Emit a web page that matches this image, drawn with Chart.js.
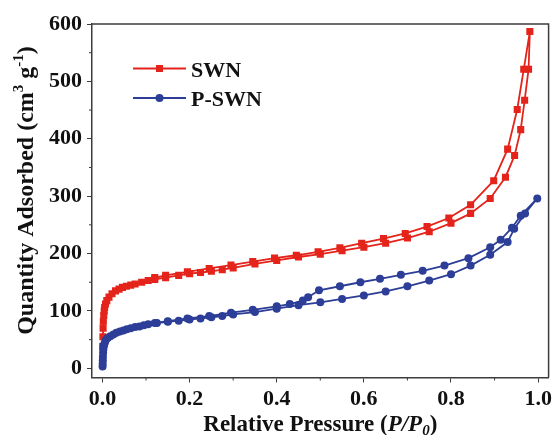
<!DOCTYPE html>
<html>
<head>
<meta charset="utf-8">
<script src="https://cdn.jsdelivr.net/npm/chart.js@4.4.1/dist/chart.umd.min.js"></script>
<style>
    html, body { margin: 0; padding: 0; background: #fff; }
</style>
</head>
<body>
<canvas id="isoChart" width="556" height="435"></canvas>
<script>
// SWN isotherm: adsorption branch (lower) then desorption branch (upper)
const swnAdsX = [0.0005, 0.001, 0.0015, 0.002, 0.003, 0.004, 0.005, 0.007, 0.01, 0.015, 0.022, 0.03, 0.038, 0.046, 0.055, 0.065, 0.075, 0.09, 0.105, 0.12, 0.145, 0.175, 0.2, 0.225, 0.25, 0.275, 0.3, 0.35, 0.4, 0.45, 0.5, 0.55, 0.6, 0.65, 0.7, 0.75, 0.8, 0.845, 0.89, 0.925, 0.946, 0.96, 0.969, 0.978, 0.981];
const swnAdsY = [38, 55, 70, 82, 92, 100, 106, 112, 118, 124, 130, 135, 138, 141, 143, 145, 147, 150, 153, 155, 158, 162, 165, 167, 169, 172, 175, 182, 188, 194, 199, 205, 211, 218, 227, 238, 253, 270, 296, 333, 371, 416, 467, 521, 587];
const swnDesX = [0.967, 0.952, 0.93, 0.898, 0.845, 0.795, 0.745, 0.695, 0.645, 0.595, 0.545, 0.495, 0.445, 0.395, 0.345, 0.295, 0.245, 0.195, 0.145, 0.12];
const swnDesY = [521, 451, 382, 327, 285, 262, 247, 235, 226, 218, 210, 203, 197, 192, 186, 180, 174, 168, 162, 158];

// P-SWN isotherm
const pswnAdsX = [0.0003, 0.0005, 0.0008, 0.001, 0.0015, 0.002, 0.003, 0.004, 0.006, 0.008, 0.012, 0.018, 0.025, 0.032, 0.04, 0.048, 0.056, 0.065, 0.075, 0.085, 0.095, 0.105, 0.125, 0.15, 0.175, 0.2, 0.225, 0.25, 0.275, 0.3, 0.35, 0.4, 0.45, 0.5, 0.55, 0.6, 0.65, 0.7, 0.75, 0.8, 0.845, 0.89, 0.93, 0.945, 0.97, 0.998];
const pswnAdsY = [3, 8, 14, 20, 27, 33, 38, 42, 46, 50, 53, 56, 59, 62, 64, 66, 68, 70, 72, 73, 75, 77, 79, 81, 83, 85, 87, 89, 91, 94, 98, 104, 110, 115, 121, 127, 134, 143, 153, 164, 179, 198, 220, 243, 270, 296];
const pswnDesX = [0.96, 0.94, 0.914, 0.89, 0.84, 0.785, 0.735, 0.685, 0.637, 0.592, 0.545, 0.497, 0.472, 0.46, 0.43, 0.4, 0.345, 0.295, 0.245, 0.195, 0.15, 0.12];
const pswnDesY = [266, 245, 224, 211, 192, 179, 170, 163, 156, 150, 143, 136, 124, 118, 112, 108, 102, 97, 91, 87, 82, 79];

const xTicks = [0, 0.2, 0.4, 0.6, 0.8, 1.0];
const xMinorTicks = [0.1, 0.3, 0.5, 0.7, 0.9];
const yTicks = [0, 100, 200, 300, 400, 500, 600];
const yMinorTicks = [50, 150, 250, 350, 450, 550];

const RED = '#e4231b';
const BLUE = '#2c3e97';
const AXIS_COLOR = '#3c3c3c';
const SERIF = '"Liberation Serif", "Times New Roman", serif';

function toPoints(xs, ys) {
    return xs.map((x, i) => ({ x: x, y: ys[i] }));
}

// draws a run of text pieces (different fonts / raised parts) centred on x
function drawRich(ctx, parts, x, y) {
    let total = 0;
    parts.forEach(p => { ctx.font = p.font; total += ctx.measureText(p.text).width; });
    let cx = x - total / 2;
    ctx.textAlign = 'left';
    ctx.textBaseline = 'alphabetic';
    parts.forEach(p => {
        ctx.font = p.font;
        ctx.fillText(p.text, cx, y + (p.dy || 0));
        cx += ctx.measureText(p.text).width;
    });
}

const framePlugin = {
    id: 'framePlugin',
    afterDraw(chart) {
        const ctx = chart.ctx;
        const a = chart.chartArea;
        const xs = chart.scales.x;
        const ys = chart.scales.y;
        ctx.save();

        // top and right sides of the box
        ctx.strokeStyle = AXIS_COLOR;
        ctx.lineWidth = 1.5;
        ctx.beginPath();
        ctx.moveTo(a.left, a.top);
        ctx.lineTo(a.right, a.top);
        ctx.lineTo(a.right, a.bottom);
        ctx.stroke();

        // minor ticks
        ctx.lineWidth = 1;
        ctx.beginPath();
        yMinorTicks.forEach(v => {
            const py = ys.getPixelForValue(v);
            ctx.moveTo(a.left - 3, py);
            ctx.lineTo(a.left, py);
        });
        xMinorTicks.forEach(v => {
            const px = xs.getPixelForValue(v);
            ctx.moveTo(px, a.bottom);
            ctx.lineTo(px, a.bottom + 3);
        });
        ctx.stroke();

        // legend
        const items = [
            { label: 'SWN', color: RED, square: true, y: 68.5 },
            { label: 'P-SWN', color: BLUE, square: false, y: 98 }
        ];
        items.forEach(it => {
            ctx.strokeStyle = it.color;
            ctx.fillStyle = it.color;
            ctx.lineWidth = 1.8;
            ctx.beginPath();
            ctx.moveTo(133, it.y);
            ctx.lineTo(186, it.y);
            ctx.stroke();
            ctx.beginPath();
            if (it.square) {
                ctx.rect(159.5 - 3.5, it.y - 3.5, 7, 7);
            } else {
                ctx.arc(159.5, it.y, 4, 0, Math.PI * 2);
            }
            ctx.fill();
            ctx.fillStyle = '#111';
            ctx.font = 'bold 22px ' + SERIF;
            ctx.textAlign = 'left';
            ctx.textBaseline = 'alphabetic';
            ctx.fillText(it.label, 191, it.y + 8);
        });

        // axis titles
        ctx.fillStyle = '#111';
        drawRich(ctx, [
            { text: 'Relative Pressure (', font: 'bold 23px ' + SERIF },
            { text: 'P/P', font: 'italic bold 23px ' + SERIF },
            { text: '0', font: 'italic bold 15px ' + SERIF, dy: 4 },
            { text: ')', font: 'bold 23px ' + SERIF }
        ], (a.left + a.right) / 2, 431);

        ctx.save();
        ctx.translate(33, 190.5);
        ctx.rotate(-Math.PI / 2);
        drawRich(ctx, [
            { text: 'Quantity Adsorbed (cm', font: 'bold 24px ' + SERIF },
            { text: '3', font: 'bold 15px ' + SERIF, dy: -10 },
            { text: ' g', font: 'bold 24px ' + SERIF },
            { text: '-1', font: 'bold 15px ' + SERIF, dy: -10 },
            { text: ')', font: 'bold 24px ' + SERIF }
        ], 0, 0);
        ctx.restore();

        ctx.restore();
    }
};

const ctx = document.getElementById('isoChart');

new Chart(ctx, {
    type: 'scatter',
    data: {
        datasets: [
            {
                label: 'SWN',
                data: toPoints(swnAdsX.concat(swnDesX), swnAdsY.concat(swnDesY)),
                showLine: true,
                borderColor: RED,
                backgroundColor: RED,
                borderWidth: 1.8,
                pointStyle: 'rect',
                pointRadius: 5,
                pointBorderWidth: 0,
                order: 2
            },
            {
                label: 'P-SWN',
                data: toPoints(pswnAdsX.concat(pswnDesX), pswnAdsY.concat(pswnDesY)),
                showLine: true,
                borderColor: BLUE,
                backgroundColor: BLUE,
                borderWidth: 1.8,
                pointStyle: 'circle',
                pointRadius: 4,
                pointBorderWidth: 0,
                order: 1
            }
        ]
    },
    options: {
        responsive: false,
        animation: false,
        devicePixelRatio: 1,
        layout: { padding: { top: 24, right: 5, left: 0, bottom: 0 } },
        plugins: {
            legend: { display: false },
            tooltip: { enabled: false }
        },
        scales: {
            x: {
                type: 'linear',
                min: -0.024,
                max: 1.024,
                afterBuildTicks: axis => { axis.ticks = xTicks.map(v => ({ value: v })); },
                afterFit: axis => { axis.height = 57.5; },
                border: { display: true, color: AXIS_COLOR, width: 1.5 },
                grid: { display: true, drawOnChartArea: false, drawTicks: true, tickLength: 5, tickColor: AXIS_COLOR, tickWidth: 1 },
                ticks: {
                    color: '#111',
                    padding: 4,
                    maxRotation: 0,
                    font: { family: SERIF, size: 22, weight: 'bold' },
                    callback: v => Number(v).toFixed(1)
                }
            },
            y: {
                type: 'linear',
                min: -16,
                max: 600,
                afterBuildTicks: axis => { axis.ticks = yTicks.map(v => ({ value: v })); },
                afterFit: axis => { axis.width = 92; },
                border: { display: true, color: AXIS_COLOR, width: 1.5 },
                grid: { display: true, drawOnChartArea: false, drawTicks: true, tickLength: 5, tickColor: AXIS_COLOR, tickWidth: 1 },
                ticks: {
                    color: '#111',
                    padding: 5,
                    font: { family: SERIF, size: 22, weight: 'bold' },
                    callback: v => String(v)
                }
            }
        }
    },
    plugins: [framePlugin]
});
</script>
</body>
</html>
